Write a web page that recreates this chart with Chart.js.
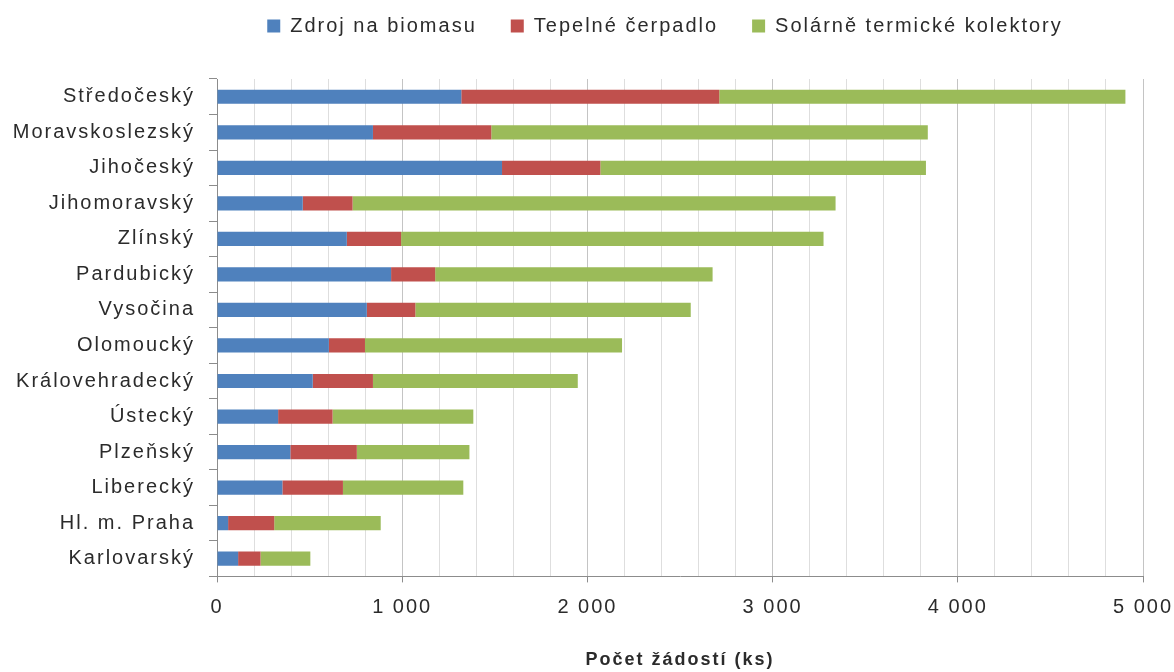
<!DOCTYPE html>
<html>
<head>
<meta charset="utf-8">
<script src="https://cdn.jsdelivr.net/npm/chart.js@4.4.1/dist/chart.umd.min.js"></script>
<style>
  html, body { margin: 0; padding: 0; background: #fff; }
  #chart-area { display: block; }
</style>
</head>
<body>
<canvas id="chart-area" width="1174" height="672"></canvas>
<script>
//chart data
var regions = ["Středočeský", "Moravskoslezský", "Jihočeský", "Jihomoravský", "Zlínský",
    "Pardubický", "Vysočina", "Olomoucký", "Královehradecký", "Ústecký",
    "Plzeňský", "Liberecký", "Hl. m. Praha", "Karlovarský"];
var seriesNames = ["Zdroj na biomasu", "Tepelné čerpadlo", "Solárně termické kolektory"];
var biomasa = [1319, 842, 1539, 463, 701, 940, 809, 604, 517, 330, 396, 353, 60, 114];
var cerpadlo = [1393, 639, 531, 269, 293, 238, 262, 195, 325, 294, 359, 327, 249, 121];
var solar = [2193, 2357, 1758, 2608, 2281, 1498, 1487, 1388, 1106, 760, 608, 650, 575, 269];
var xTickStep = 200;    // minor grid step
var xLabelStep = 1000;  // labelled ticks
var xMax = 5000;
var axisTitle = "Počet žádostí (ks)";

var seriesColors = ["#4F81BD", "#C0504D", "#9BBB59"];
var textColor = "#2b2b2b";
var axisColor = "#8c8c8c";

Chart.defaults.font.family = "'Liberation Sans', Arial, sans-serif";
Chart.defaults.font.size = 20;
Chart.defaults.color = textColor;

// the picture's text is widely spaced, canvas letterSpacing imitates that
// canvas state is reset when chart.js sizes the canvas, so set it again before layout and draw
var letterSpacingPlugin = {
    id: 'letterSpacing',
    beforeUpdate: function (chart) { chart.ctx.letterSpacing = '2px'; },
    beforeDraw: function (chart) { chart.ctx.letterSpacing = '2px'; }
};

// legend in the picture is centred over the plot, not over the canvas
var legendShiftPlugin = {
    id: 'legendShift',
    afterLayout: function (chart) {
        if (chart.legend) {
            chart.legend.left += 78;
            chart.legend.right += 78;
        }
    }
};

function formatThousands(v) {
    return String(v).replace(/\B(?=(\d{3})+(?!\d))/g, ' ');
}

var chart = new Chart(document.getElementById("chart-area").getContext("2d"), {
    type: "bar",
    plugins: [letterSpacingPlugin, legendShiftPlugin],
    data: {
        labels: regions,
        datasets: [
            { label: seriesNames[0], data: biomasa, backgroundColor: seriesColors[0] },
            { label: seriesNames[1], data: cerpadlo, backgroundColor: seriesColors[1] },
            { label: seriesNames[2], data: solar, backgroundColor: seriesColors[2] }
        ]
    },
    options: {
        indexAxis: 'y',
        responsive: false,
        animation: false,
        datasets: {
            bar: { categoryPercentage: 1.0, barPercentage: 0.4 }
        },
        layout: {
            //negative top so the wide legend padding does not push everything down
            padding: { top: -18, left: 0, right: 0, bottom: 0 }
        },
        plugins: {
            legend: {
                position: 'top',
                labels: {
                    boxWidth: 13,
                    boxHeight: 13,
                    padding: 34,
                    color: textColor,
                    font: { size: 20 }
                }
            },
            //empty title used only as a spacer between legend and plot
            title: {
                display: true,
                text: ' ',
                weight: 500,
                font: { size: 1, lineHeight: 1 },
                padding: { top: 0, bottom: 32 }
            },
            tooltip: { enabled: false }
        },
        scales: {
            x: {
                stacked: true,
                min: 0,
                max: xMax,
                border: { display: true, color: axisColor, width: 1 },
                grid: {
                    color: function (c) {
                        return c.tick && c.tick.value % xLabelStep === 0 ? '#c4c4c4' : '#dedede';
                    },
                    tickColor: function (c) {
                        return c.tick && c.tick.value % xLabelStep === 0 ? axisColor : 'rgba(0,0,0,0)';
                    },
                    tickLength: 6
                },
                ticks: {
                    stepSize: xTickStep,
                    autoSkip: false,
                    maxRotation: 0,
                    padding: 13,
                    color: textColor,
                    font: { size: 20 },
                    callback: function (value) {
                        return value % xLabelStep === 0 ? formatThousands(value) : '';
                    }
                },
                title: {
                    display: true,
                    text: axisTitle,
                    color: textColor,
                    font: { size: 18, weight: 'bold' },
                    padding: { top: 17, bottom: 1 }
                },
                afterFit: function (scale) {
                    scale.paddingLeft = 0;
                    scale.paddingRight = 31;
                }
            },
            y: {
                stacked: true,
                border: { display: true, color: axisColor, width: 1 },
                grid: {
                    drawOnChartArea: false,
                    drawTicks: true,
                    tickLength: 8,
                    tickColor: axisColor,
                    offset: true
                },
                ticks: {
                    padding: 14,
                    color: textColor,
                    font: { size: 20 }
                },
                afterFit: function (scale) {
                    //plot area starts at x=217
                    scale.width = 217;
                }
            }
        }
    }
});
</script>
</body>
</html>
